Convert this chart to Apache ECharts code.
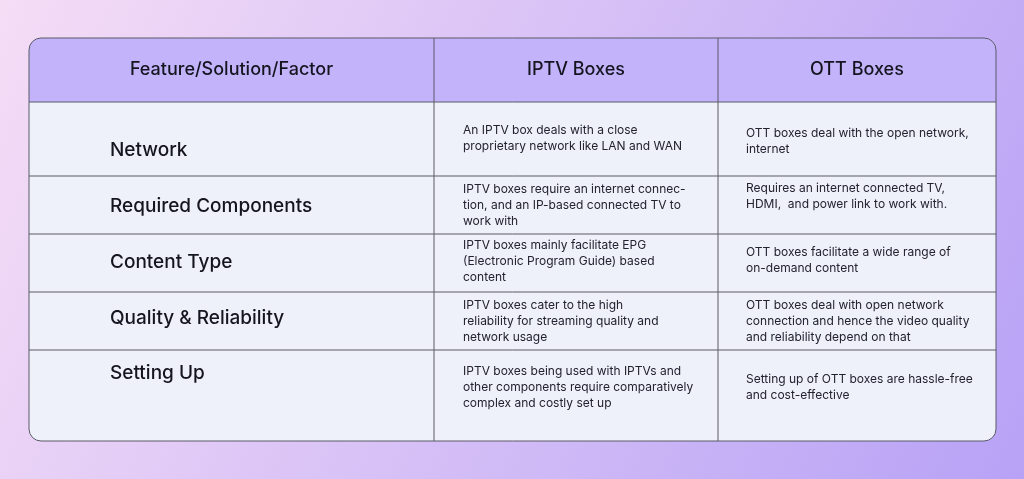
<!DOCTYPE html>
<html><head><meta charset="utf-8">
<script src="https://cdn.jsdelivr.net/npm/echarts@6/dist/echarts.min.js"></script>
<style>html,body{margin:0;padding:0}#c{width:1024px;height:479px}</style>
</head><body><div id="c"></div>
<script>
const headers = ["Feature/Solution/Factor", "IPTV Boxes", "OTT Boxes"];
const factors = ["Network", "Required Components", "Content Type", "Quality & Reliability", "Setting Up"];
const iptv = [
  ["An IPTV box deals with a close", "proprietary network like LAN and WAN"],
  ["IPTV boxes require an internet connec-", "tion, and an IP-based connected TV to", "work with"],
  ["IPTV boxes mainly facilitate EPG", "(Electronic Program Guide) based", "content"],
  ["IPTV boxes cater to the high", "reliability for streaming quality and", "network usage"],
  ["IPTV boxes being used with IPTVs and", "other components require comparatively", "complex and costly set up"]
];
const ott = [
  ["OTT boxes deal with the open network,", "internet"],
  ["Requires an internet connected TV,", "HDMI,  and power link to work with."],
  ["OTT boxes facilitate a wide range of", "on-demand content"],
  ["OTT boxes deal with open network", "connection and hence the video quality", "and reliability depend on that"],
  ["Setting up of OTT boxes are hassle-free", "and cost-effective"]
];

const L = 29, R = 996, T = 38, B = 441, HB = 102;
const colX = [L, 434, 718, R];
const rowY = [HB, 176, 234, 292, 350, B];
const factorY = [150, 206, 262, 318, 373];
const lineH = 16;
const stroke = '#5a5a66';
const font = 'Inter, "Noto Sans", sans-serif';

const g = [];
g.push({type:'rect', shape:{x:0,y:0,width:1024,height:479}, style:{fill:new echarts.graphic.LinearGradient(0,0,1,1,[{offset:0,color:'#f5ddf6'},{offset:1,color:'#b7a2f6'}])}, silent:true});
g.push({type:'rect', shape:{x:L,y:T,width:R-L,height:B-T,r:12}, style:{fill:'#eef0fa', stroke:'none'}});
g.push({type:'rect', shape:{x:L,y:T,width:R-L,height:HB-T,r:[12,12,0,0]}, style:{fill:'#c3b3fb'}});
g.push({type:'rect', shape:{x:L,y:T,width:R-L,height:B-T,r:12}, style:{fill:'none', stroke:stroke, lineWidth:1}});
for (let i = 1; i < colX.length-1; i++) g.push({type:'line', shape:{x1:colX[i],y1:T,x2:colX[i],y2:B}, style:{stroke:stroke,lineWidth:1}});
for (let i = 0; i < rowY.length-1; i++) g.push({type:'line', shape:{x1:L,y1:rowY[i],x2:R,y2:rowY[i]}, style:{stroke:stroke,lineWidth:1}});
headers.forEach((h,i)=>{
  g.push({type:'text', x:(colX[i]+colX[i+1])/2, y:(T+HB)/2, style:{text:h, fill:'#151520', font:'500 18px '+font, align:'center', verticalAlign:'middle'}});
});
factors.forEach((f,i)=>{
  g.push({type:'text', x:110, y:factorY[i], style:{text:f, fill:'#151520', font:'500 19px '+font, align:'left', verticalAlign:'middle'}});
});
function cell(lines, x, r, topOverride){
  const mid = (rowY[r]+rowY[r+1])/2;
  let start = mid - (lines.length-1)*lineH/2;
  if (topOverride !== undefined) start = topOverride;
  lines.forEach((t,k)=>g.push({type:'text', x:x, y:start+k*lineH, style:{text:t, fill:'#222230', font:'12px '+font, align:'left', verticalAlign:'middle'}}));
}
const iptvTop = [130, undefined, 245, 305, 371];
const ottTop = [133, 188, 252, 305, 379];
iptv.forEach((c,r)=>cell(c, 463, r, iptvTop[r]));
ott.forEach((c,r)=>cell(c, 746, r, ottTop[r]));

const chart = echarts.init(document.getElementById('c'));
chart.setOption({animation:false, graphic:g});
</script></body></html>
